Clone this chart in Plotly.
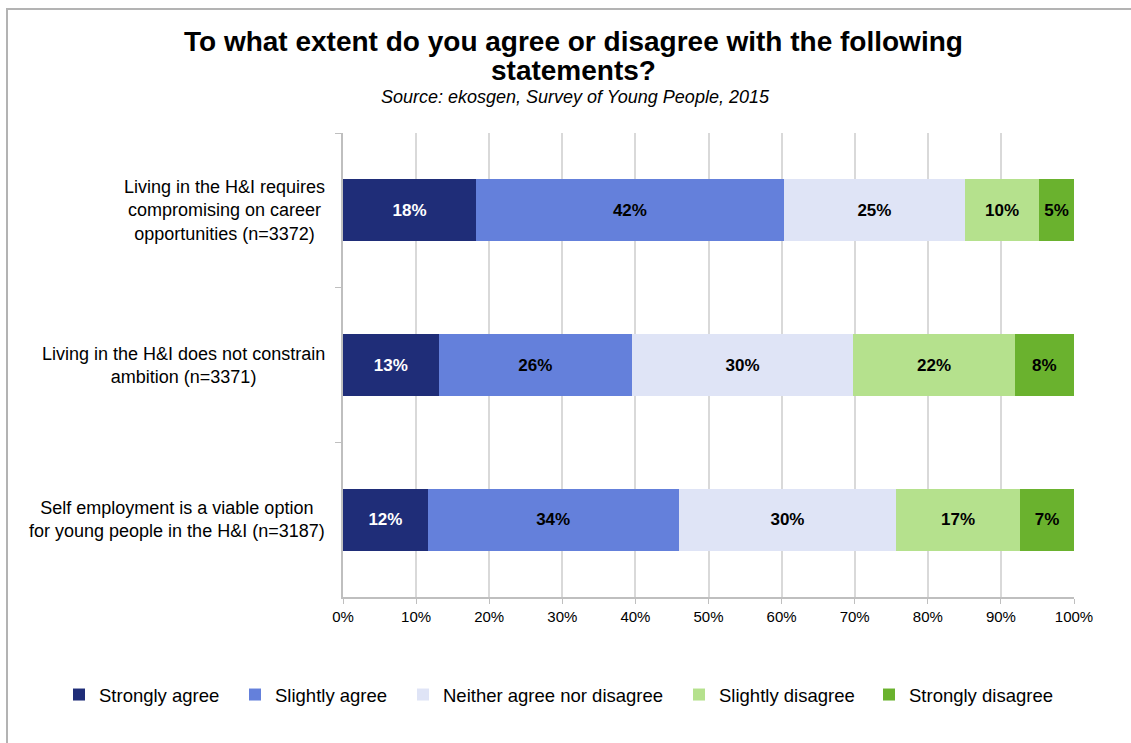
import plotly.graph_objects as go

# Survey statements (top to bottom) and response shares (%)
statements = [
    "Living in the H&I requires<br>compromising on career<br>opportunities (n=3372)",
    "Living in the H&I does not constrain<br>ambition (n=3371)",
    "Self employment is a viable option<br>for young people in the H&I (n=3187)",
]
responses = [
    "Strongly agree",
    "Slightly agree",
    "Neither agree nor disagree",
    "Slightly disagree",
    "Strongly disagree",
]
strongly_agree = [18.2, 13.1, 11.6]
slightly_agree = [42.1, 26.4, 34.3]
neither = [24.8, 30.3, 29.8]
slightly_disagree = [10.1, 22.1, 16.9]
strongly_disagree = [4.8, 8.1, 7.4]

x_ticks = list(range(0, 101, 10))
x_tick_labels = [f"{v}%" for v in x_ticks]

title_lines = [
    "To what extent do you agree or disagree with the following",
    "statements?",
]
subtitle = "Source: ekosgen, Survey of Young People, 2015"

series = [strongly_agree, slightly_agree, neither, slightly_disagree, strongly_disagree]
colors = ["#1F2D78", "#6480DB", "#DFE4F6", "#B5E18D", "#6AB22E"]
label_colors = ["#FFFFFF", "#000000", "#000000", "#000000", "#000000"]
# left edge (px) of each legend entry's text
legend_text_px = [99, 275, 443, 719, 909]

FONT = "Liberation Sans, Arial, sans-serif"
W, H = 1131, 743
ML, MR, MT, MB = 343, 57, 133, 146
PW, PH = W - ML - MR, H - MT - MB


def px_to_paper_x(px):
    return (px - ML) / PW


def px_to_paper_y(py):
    return (H - MB - py) / PH


row_ids = ["r1", "r2", "r3"]
legend_ids = ["legend"] + [f"legend{i}" for i in range(2, len(responses) + 1)]

fig = go.Figure()
for name, vals, col, tcol, lid in zip(responses, series, colors, label_colors, legend_ids):
    fig.add_trace(go.Bar(
        y=row_ids,
        x=vals,
        name=name,
        legend=lid,
        orientation="h",
        marker=dict(color=col, line=dict(width=0)),
        texttemplate="<b>%{x:.0f}%</b>",
        textposition="inside",
        insidetextanchor="middle",
        constraintext="none",
        textangle=0,
        textfont=dict(family=FONT, size=17, color=tcol),
        hovertemplate=name + ": %{x:.1f}%<extra></extra>",
    ))

# Statement labels, centred text blocks to the left of the axis
annotations = []
for rid, text in zip(row_ids, statements):
    annotations.append(dict(
        x=px_to_paper_x(327), xref="paper", y=rid, yref="y",
        text=text, showarrow=False, xanchor="right", yanchor="middle",
        align="center",
        font=dict(family=FONT, size=18, color="#000000"),
    ))

# Title (two lines) and source line
for line, cy in zip(title_lines, [41, 70]):
    annotations.append(dict(
        x=px_to_paper_x(573), xref="paper", y=px_to_paper_y(cy), yref="paper",
        xanchor="center", yanchor="middle",
        text=f"<b>{line}</b>", showarrow=False,
        font=dict(family=FONT, size=28, color="#000000"),
    ))
annotations.append(dict(
    x=px_to_paper_x(575), xref="paper", y=px_to_paper_y(97), yref="paper",
    xanchor="center", yanchor="middle",
    text=f"<i>{subtitle}</i>", showarrow=False,
    font=dict(family=FONT, size=18, color="#000000"),
))

# One legend per response so each entry sits at its own position
legends = {}
for lid, tx in zip(legend_ids, legend_text_px):
    legends[lid] = dict(
        orientation="h",
        x=px_to_paper_x(tx - 40), xref="paper", xanchor="left",
        y=px_to_paper_y(695), yref="paper", yanchor="middle",
        font=dict(family=FONT, size=18.5, color="#000000"),
        bgcolor="rgba(0,0,0,0)",
        itemwidth=30,
    )

fig.update_layout(
    width=W,
    height=H,
    barmode="stack",
    bargap=0.6,
    paper_bgcolor="#FFFFFF",
    plot_bgcolor="#FFFFFF",
    margin=dict(l=ML, r=MR, t=MT, b=MB),
    showlegend=True,
    xaxis=dict(
        range=[0, 100],
        tickvals=x_ticks,
        ticktext=x_tick_labels,
        showgrid=True,
        gridcolor="#D9D9D9",
        gridwidth=1.5,
        showline=True,
        linecolor="#BFBFBF",
        linewidth=1.5,
        ticks="outside",
        ticklen=5,
        tickcolor="#BFBFBF",
        tickfont=dict(family=FONT, size=15, color="#000000"),
        zeroline=False,
        fixedrange=True,
    ),
    yaxis=dict(
        categoryorder="array",
        categoryarray=row_ids,
        autorange="reversed",
        showticklabels=False,
        ticks="outside",
        tickson="boundaries",
        ticklen=6,
        tickcolor="#BFBFBF",
        showline=True,
        linecolor="#BFBFBF",
        linewidth=1.5,
        showgrid=False,
        zeroline=False,
        fixedrange=True,
    ),
    annotations=annotations,
    shapes=[dict(
        type="rect", xref="paper", yref="paper",
        x0=px_to_paper_x(7), x1=px_to_paper_x(1200),
        y0=px_to_paper_y(800), y1=px_to_paper_y(9),
        line=dict(color="#B3B3B3", width=2),
        fillcolor="rgba(0,0,0,0)", layer="below",
    )],
    **legends,
)

fig.write_html("out.html")
